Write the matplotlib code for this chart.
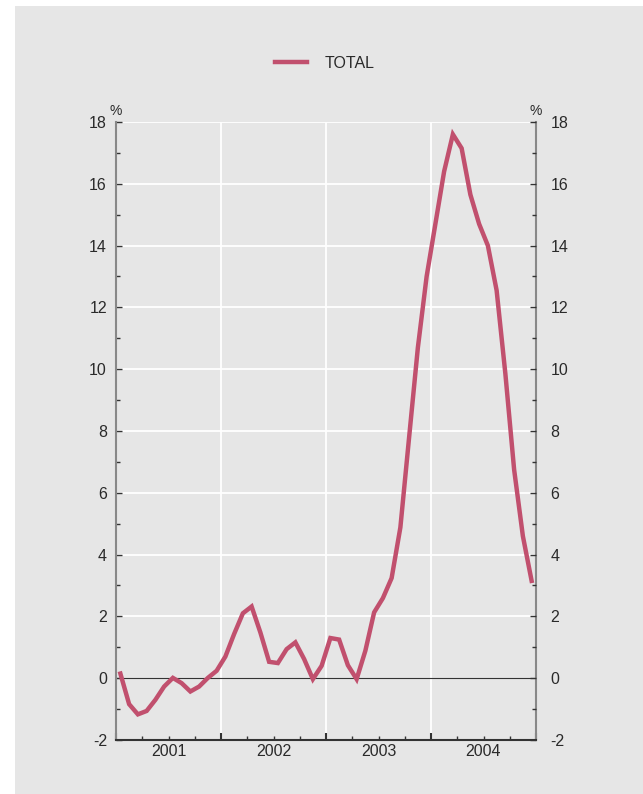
import numpy as np
import matplotlib
matplotlib.use('Agg')
import matplotlib.pyplot as plt
from matplotlib.patches import Rectangle
from matplotlib.ticker import MultipleLocator
import matplotlib.transforms as mtransforms

plt.rcParams['font.family'] = ['Liberation Sans', 'DejaVu Sans']
plt.rcParams['axes.unicode_minus'] = False

# Monthly values, Jan 2001 - Dec 2004 (%)
years = ['2001', '2002', '2003', '2004']
total_2001 = [0.15, -0.84, -1.17, -1.06, -0.70, -0.27, 0.01, -0.16, -0.43, -0.27, 0.01, 0.24]
total_2002 = [0.70, 1.43, 2.10, 2.32, 1.48, 0.53, 0.49, 0.94, 1.16, 0.62, -0.03, 0.40]
total_2003 = [1.30, 1.25, 0.42, -0.03, 0.89, 2.13, 2.59, 3.24, 4.88, 7.8, 10.7, 13.0]
total_2004 = [14.7, 16.4, 17.6, 17.15, 15.65, 14.7, 14.0, 12.55, 9.85, 6.75, 4.6, 3.15]
total = total_2001 + total_2002 + total_2003 + total_2004
months = np.arange(len(total)) + 0.5  # mid-month positions

line_color = '#c1506e'
bg = '#e6e6e6'
text_color = '#2a2a2a'

fig = plt.figure(figsize=(6.43, 7.94), dpi=100)
fig.patch.set_facecolor('white')
# grey panel behind the chart
fig.add_artist(Rectangle((15 / 643, 0), 628 / 643, 788 / 794,
                         transform=fig.transFigure, facecolor=bg,
                         edgecolor='none', zorder=-10))

ax = fig.add_axes([116 / 643, 1 - 740 / 794, 420 / 643, 618 / 794])
ax.set_facecolor(bg)
ax.set_xlim(0, 48)
ax.set_ylim(-2, 18)

# white grid
for yv in range(2, 19, 2):
    ax.axhline(yv, color='white', lw=1.3, zorder=1)
for xv in [12, 24, 36]:
    ax.axvline(xv, color='white', lw=1.3, zorder=1)
ax.axhline(0, color='#333333', lw=0.8, zorder=2)

ax.plot(months, total, color=line_color, lw=3.2, label='TOTAL', zorder=3,
        solid_joinstyle='miter')

# spines
ax.spines['top'].set_visible(False)
ax.spines['left'].set_color('#888888')
ax.spines['right'].set_color('#888888')
ax.spines['left'].set_linewidth(1.5)
ax.spines['right'].set_linewidth(1.5)
ax.spines['bottom'].set_color('#333333')
ax.spines['bottom'].set_linewidth(1.5)

# y ticks
ax.yaxis.set_major_locator(MultipleLocator(2))
ax.yaxis.set_minor_locator(MultipleLocator(1))
ax.tick_params(axis='y', which='major', direction='in', length=4, width=1,
               color='#333333', labelsize=11.5, labelcolor=text_color, pad=6.5)
ax.tick_params(axis='y', which='minor', direction='in', length=3, width=1,
               color='#333333')

ax2 = ax.twinx()
ax2.set_ylim(-2, 18)
for s in ['top', 'left', 'bottom', 'right']:
    ax2.spines[s].set_visible(False)
ax2.yaxis.set_major_locator(MultipleLocator(2))
ax2.yaxis.set_minor_locator(MultipleLocator(1))
ax2.tick_params(axis='y', which='major', direction='in', length=4, width=1,
                color='#333333', labelsize=11.5, labelcolor=text_color, pad=10.5)
ax2.tick_params(axis='y', which='minor', direction='in', length=3, width=1,
                color='#333333')

# x ticks: year boundaries and quarters
ax.set_xticks([0, 12, 24, 36, 48])
ax.set_xticks(np.arange(0, 49, 3), minor=True)
ax.tick_params(axis='x', which='major', direction='in', length=5, width=1.5,
               color='#333333', labelbottom=False)
ax.tick_params(axis='x', which='minor', direction='in', length=3, width=1,
               color='#333333')

trans = mtransforms.blended_transform_factory(ax.transData, ax.transAxes)
for i, yr in enumerate(years):
    ax.text(i * 12 + 6, -0.007, yr, transform=trans, ha='center', va='top',
            fontsize=11.5, color=text_color)

# % unit labels
ax.text(0, 1.018, '%', transform=ax.transAxes, ha='center', va='center',
        fontsize=10, color=text_color)
ax.text(1, 1.018, '%', transform=ax.transAxes, ha='center', va='center',
        fontsize=10, color=text_color)

fig.legend(loc='center', bbox_to_anchor=(325 / 643, 1 - 63 / 794),
           frameon=False, fontsize=11.5, handlelength=2.0, handletextpad=1.1,
           labelcolor=text_color)

fig.savefig('out.png', dpi=100, facecolor='white')
